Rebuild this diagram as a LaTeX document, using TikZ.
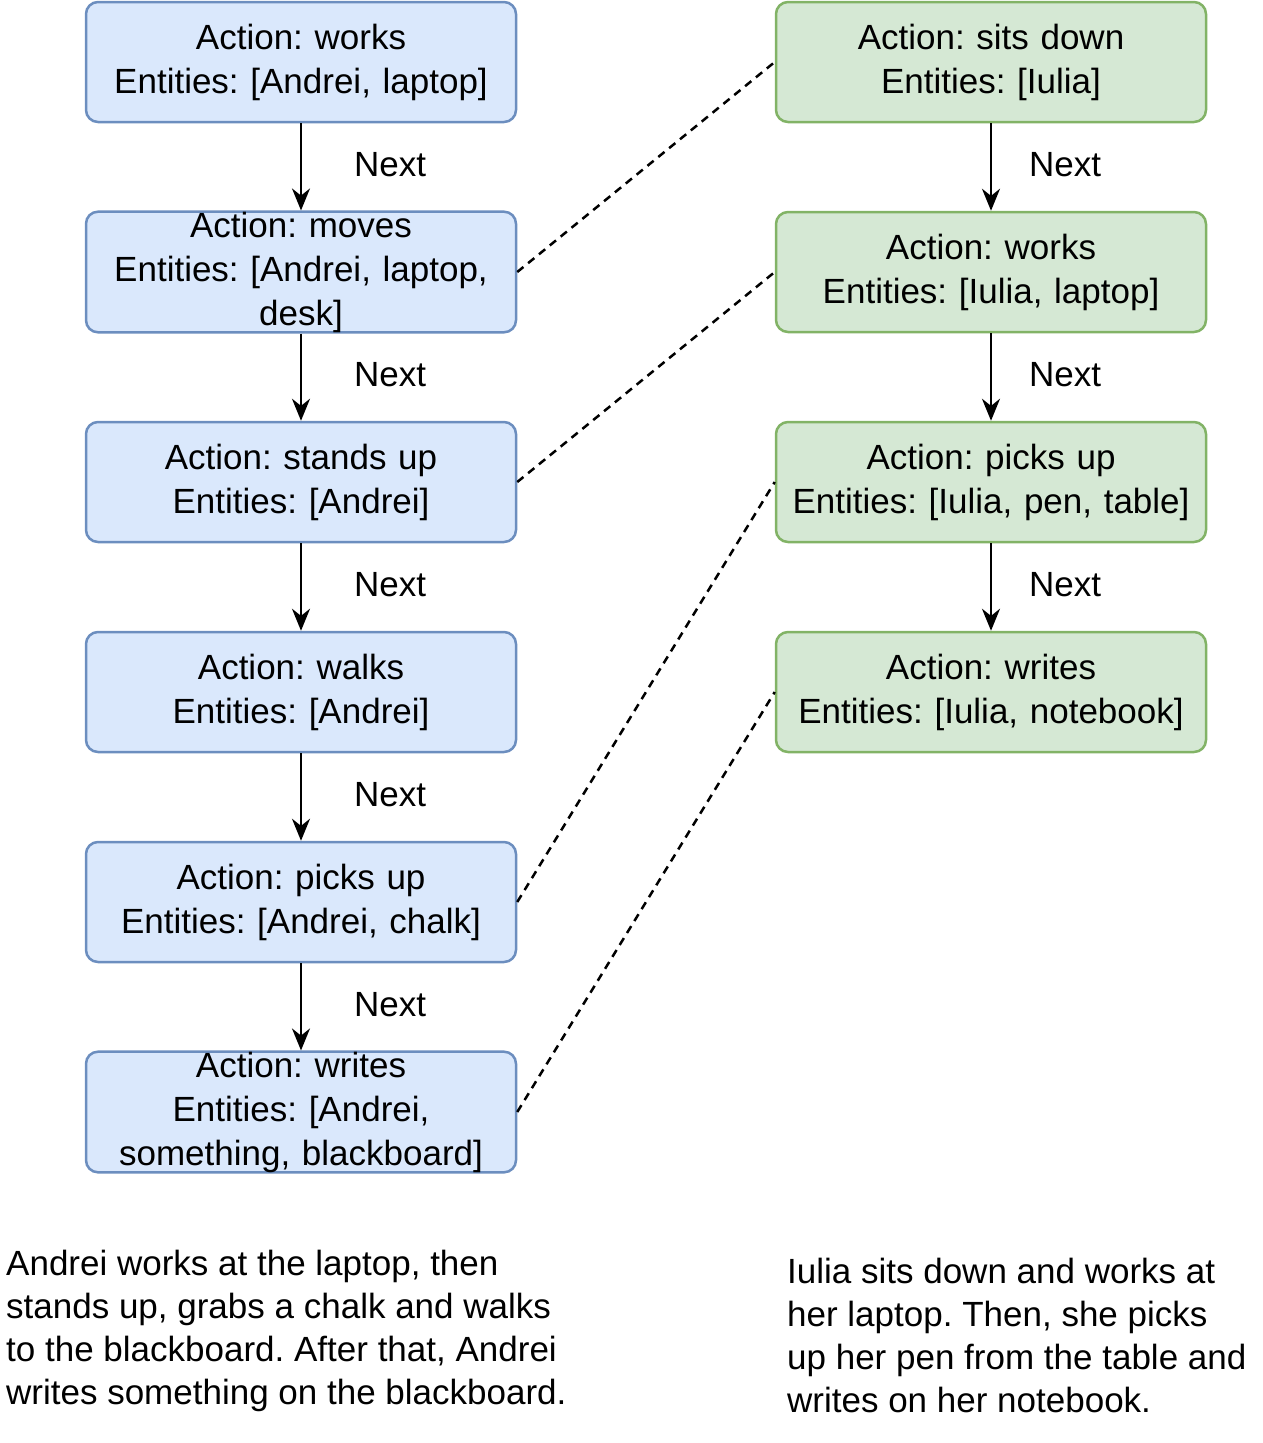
\documentclass[tikz,border=0pt]{standalone}
\usepackage{fontspec}
\setmainfont{Liberation Sans}
\frenchspacing
\hyphenpenalty=10000
\definecolor{bluefill}{HTML}{DAE8FC}
\definecolor{bluedraw}{HTML}{6C8EBF}
\definecolor{greenfill}{HTML}{D5E8D4}
\definecolor{greendraw}{HTML}{82B366}
\tikzset{
  box/.style={shape=rectangle,rounded corners=12pt,line width=2.5pt,minimum width=420pt,minimum height=120pt,text width=430pt,align=center,inner sep=0pt,font=\fontsize{35}{44}\selectfont},
  bluebox/.style={box,draw=bluedraw,fill=bluefill},
  greenbox/.style={box,draw=greendraw,fill=greenfill},
  nextlabel/.style={font=\fontsize{35}{40}\selectfont},
  nextarrow/.style={-{Stealth[length=22pt,width=18pt]},line width=2.5pt},
  link/.style={line width=2.5pt,dash pattern=on 8pt off 6pt},
  story/.style={anchor=north west,inner sep=0pt,align=left,font=\fontsize{35}{43}\selectfont}
}
\usetikzlibrary{arrows.meta}
\begin{document}
\begin{tikzpicture}[x=1pt,y=-1pt]
		\useasboundingbox (0,0) rectangle (1263,1443);
		\node [bluebox] (A1) at (301,62) {Action: works\\Entities: [Andrei, laptop]};
		\node [bluebox] (A2) at (301,272) {Action: moves\\Entities: [Andrei, laptop,\\desk]};
		\node [bluebox] (A3) at (301,482) {Action: stands up\\Entities: [Andrei]};
		\node [bluebox] (A4) at (301,692) {Action: walks\\Entities: [Andrei]};
		\node [bluebox] (A5) at (301,902) {Action: picks up\\Entities: [Andrei, chalk]};
		\node [bluebox] (A6) at (301,1112) {Action: writes\\Entities: [Andrei,\\something, blackboard]};
		\node [greenbox] (B1) at (991,62) {Action: sits down\\Entities: [Iulia]};
		\node [greenbox] (B2) at (991,272) {Action: works\\Entities: [Iulia, laptop]};
		\node [greenbox] (B3) at (991,482) {Action: picks up\\Entities: [Iulia, pen, table]};
		\node [greenbox] (B4) at (991,692) {Action: writes\\Entities: [Iulia, notebook]};
		\foreach \a/\b/\y in {A1/A2/165,A2/A3/375,A3/A4/585,A4/A5/795,A5/A6/1005} {
			\draw [nextarrow] (\a) -- (\b);
			\node [nextlabel] (N\a) at (390,\y) {Next};
		}
		\foreach \a/\b/\y in {B1/B2/165,B2/B3/375,B3/B4/585} {
			\draw [nextarrow] (\a) -- (\b);
			\node [nextlabel] (N\a) at (1065,\y) {Next};
		}
		\draw [link] (A2.east) -- (B1.west);
		\draw [link] (A3.east) -- (B2.west);
		\draw [link] (A5.east) -- (B3.west);
		\draw [link] (A6.east) -- (B4.west);
		\node [story] (T1) at (6,1250) {Andrei works at the laptop, then\\stands up, grabs a chalk and walks\\to the blackboard. After that, Andrei\\writes something on the blackboard.};
		\node [story] (T2) at (787,1258) {Iulia sits down and works at\\her laptop. Then, she picks\\up her pen from the table and\\writes on her notebook.};
	\end{tikzpicture}
\end{document}
